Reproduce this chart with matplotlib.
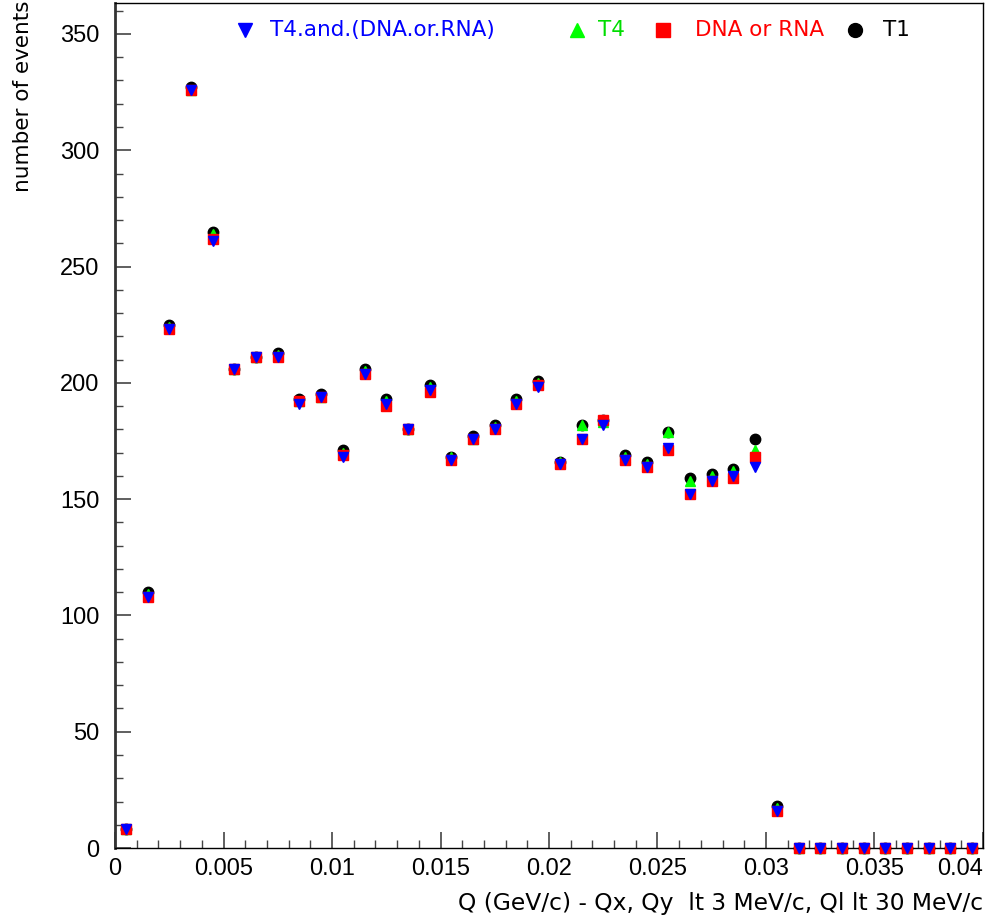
import matplotlib
matplotlib.use("Agg")
import matplotlib.pyplot as plt
import numpy as np
from matplotlib.ticker import MultipleLocator

plt.rcParams['font.family'] = ['Liberation Sans', 'DejaVu Sans']

# bin centres (GeV/c)
q = np.arange(40) * 0.001 + 0.0005

# number of events per bin
t1 = [8, 110, 225, 327, 265, 206, 211, 213, 193, 195, 171, 206, 193, 180, 199, 168, 177, 182, 193, 201,
      166, 182, 184, 169, 166, 179, 159, 161, 163, 176, 18, 0, 0, 0, 0, 0, 0, 0, 0, 0]
t4 = [8, 109, 224, 326, 264, 206, 211, 212, 192, 194, 170, 205, 192, 180, 198, 168, 176, 181, 192, 200,
      166, 182, 183, 168, 165, 179, 158, 160, 162, 171, 17, 0, 0, 0, 0, 0, 0, 0, 0, 0]
dna_rna = [8, 108, 223, 326, 262, 206, 211, 211, 192, 194, 169, 204, 190, 180, 196, 167, 176, 180, 191, 199,
           165, 176, 184, 167, 164, 171, 152, 158, 159, 168, 16, 0, 0, 0, 0, 0, 0, 0, 0, 0]
t4_and = [8, 108, 223, 326, 261, 206, 211, 211, 191, 194, 168, 204, 191, 180, 197, 167, 176, 180, 191, 198,
          165, 176, 182, 167, 164, 172, 152, 158, 160, 164, 16, 0, 0, 0, 0, 0, 0, 0, 0, 0]

xticks = [0, 0.005, 0.01, 0.015, 0.02, 0.025, 0.03, 0.035, 0.04]
xticklabels = ["0", "0.005", "0.01", "0.015", "0.02", "0.025", "0.03", "0.035", "0.04"]
yticks = [0, 50, 100, 150, 200, 250, 300, 350]

fig = plt.figure(figsize=(9.89, 9.15), dpi=100)
ax = fig.add_axes([0.1163, 0.0732, 0.8776, 0.9235])

ms = 7.5
ax.plot(q, t1, 'o', color='black', ms=ms, clip_on=False, zorder=3)
ax.plot(q, t4, '^', color='#00ff00', ms=ms, clip_on=False, zorder=4)
ax.plot(q, dna_rna, 's', color='#ff0000', ms=ms * 0.95, clip_on=False, zorder=5)
ax.plot(q, t4_and, 'v', color='#0000ff', ms=ms, clip_on=False, zorder=6)

ax.set_xlim(0, 0.04)
ax.set_ylim(0, 363.3)
ax.set_xticks(xticks)
ax.set_xticklabels(xticklabels)
ax.set_yticks(yticks)
ax.xaxis.set_minor_locator(MultipleLocator(0.001))
ax.yaxis.set_minor_locator(MultipleLocator(10))
ax.tick_params(which='both', direction='in', top=False, right=False, color='#444444', labelsize=17)
ax.tick_params(which='major', length=11.5, width=1.2)
ax.tick_params(which='minor', length=5.8, width=1.0)
ax.tick_params(axis='x', pad=7)
ax.tick_params(axis='y', pad=11)
# last x label kept inside the frame, like ROOT does
ax.get_xticklabels()[-1].set_ha('right')

for s in ['top', 'right', 'bottom']:
    ax.spines[s].set_linewidth(1.0)
ax.spines['left'].set_linewidth(2.0)
ax.spines['left'].set_color('#333333')

ax.set_xlabel("Q (GeV/c) - Qx, Qy  lt 3 MeV/c, Ql lt 30 MeV/c", fontsize=16.8, family='DejaVu Sans')
ax.xaxis.set_label_coords(1.0, -0.052)
ax.xaxis.label.set_ha('right')
ax.set_ylabel("number of events", fontsize=15.5, family='DejaVu Sans')
ax.yaxis.set_label_coords(-0.118, 1.003)
ax.yaxis.label.set_va('top')
ax.yaxis.label.set_ha('right')

# legend row along the top
ly = 0.968
leg = [
    (0.1498, 0.1786, 'v', '#0000ff', "T4.and.(DNA.or.RNA)"),
    (0.532, 0.5565, '^', '#00dd00', "T4"),
    (0.631, 0.668, 's', '#ff0000', "DNA or RNA"),
    (0.8525, 0.885, 'o', 'black', "T1"),
]
for mx, tx, mk, c, lab in leg:
    mc = '#00ff00' if mk == '^' else c
    ax.plot([mx], [ly], mk, color=mc, ms=10, transform=ax.transAxes, clip_on=False)
    ax.text(tx, ly, lab, color=c, fontsize=15.5, family='DejaVu Sans', va='center', ha='left',
            transform=ax.transAxes)

fig.savefig("out.png", dpi=100)
